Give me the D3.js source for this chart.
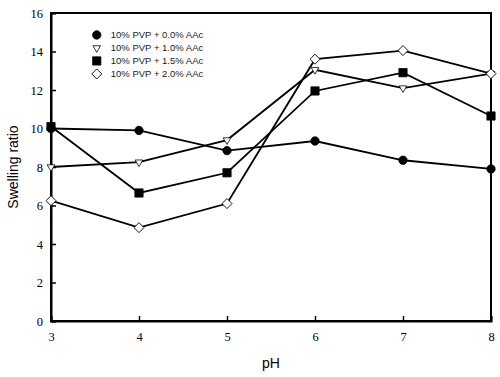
<!DOCTYPE html>
<html>
	<head>
		<style>
			body, html { margin: 0; padding: 0; background: #fff; }
			svg { display: block; }
		</style>
	</head>
	<body>
		<svg id="svg" width="500" height="377"></svg>

		<script src="https://cdn.jsdelivr.net/npm/d3@7"></script>
		<script>
			// Data
			const pH = [3, 4, 5, 6, 7, 8]
			const aac00 = [10.0, 9.9, 8.85, 9.35, 8.35, 7.9]
			const aac10 = [8.0, 8.25, 9.4, 13.05, 12.1, 12.85]
			const aac15 = [10.1, 6.65, 7.7, 11.95, 12.9, 10.65]
			const aac20 = [6.25, 4.85, 6.1, 13.6, 14.05, 12.85]
			const seriesNames = ['10% PVP + 0.0% AAc', '10% PVP + 1.0% AAc', '10% PVP + 1.5% AAc', '10% PVP + 2.0% AAc']
			const yTicks = [0, 2, 4, 6, 8, 10, 12, 14, 16]

			const series = [
				{ name: seriesNames[0], values: aac00, shape: 'circle', fill: '#000' },
				{ name: seriesNames[1], values: aac10, shape: 'triangle', fill: '#fff' },
				{ name: seriesNames[2], values: aac15, shape: 'square', fill: '#000' },
				{ name: seriesNames[3], values: aac20, shape: 'diamond', fill: '#fff' }
			]

			const margin = { top: 13, right: 9, bottom: 56, left: 51 }
			const width = 500
			const height = 377
			const innerW = width - margin.left - margin.right
			const innerH = height - margin.top - margin.bottom

			const x = d3.scaleLinear().domain([3, 8]).range([0, innerW])
			const y = d3.scaleLinear().domain([0, 16]).range([innerH, 0])

			const svg = d3.select('#svg')
			const g = svg.append('g')
				.attr('transform', `translate(${margin.left}, ${margin.top})`)

			// Frame
			g.append('rect')
				.attr('width', innerW)
				.attr('height', innerH)
				.attr('fill', 'none')
				.attr('stroke', '#000')
				.attr('stroke-width', 2)

			// Axes with inward ticks
			const xAxis = g.append('g')
				.attr('transform', `translate(0, ${innerH})`)
				.call(d3.axisBottom(x).tickValues(pH).tickSize(-5).tickPadding(10).tickFormat(d3.format('d')))
			const yAxis = g.append('g')
				.call(d3.axisLeft(y).tickValues(yTicks).tickSize(-5).tickPadding(8))

			for (const ax of [xAxis, yAxis]) {
				ax.attr('font-family', '"Liberation Serif", serif')
				ax.select('.domain').attr('stroke', '#000').attr('stroke-width', 2)
				ax.selectAll('.tick line').attr('stroke', '#000').attr('stroke-width', 1.5)
				ax.selectAll('.tick text')
					.style('font-family', '"Liberation Serif", "Times New Roman", serif')
					.attr('font-size', 12.5)
					.attr('fill', '#000')
			}
			xAxis.selectAll('.tick text').attr('dy', '0.8em')

			// Marker shapes
			const symbolFor = {
				circle: d3.symbol(d3.symbolCircle, 55),
				square: d3.symbol(d3.symbolSquare, 68),
				diamond: d3.symbol(d3.symbolDiamond2, 48),
				triangle: d3.symbol(d3.symbolTriangle2, 42)
			}
			function drawMarker(sel, shape) {
				const path = sel.append('path').attr('d', symbolFor[shape]())
				if (shape === 'triangle') path.attr('transform', 'rotate(180)')
				if (shape === 'diamond') path.attr('transform', 'scale(1.15)')
				return path
			}

			const line = d3.line()
				.x((d, i) => x(pH[i]))
				.y(d => y(d))

			// Lines first, then markers on top
			g.selectAll('.series-line')
				.data(series)
				.join('path')
				.attr('class', 'series-line')
				.attr('d', d => line(d.values))
				.attr('fill', 'none')
				.attr('stroke', '#000')
				.attr('stroke-width', 1.8)

			series.forEach(s => {
				s.values.forEach((v, i) => {
					const m = g.append('g').attr('transform', `translate(${x(pH[i])}, ${y(v)})`)
					drawMarker(m, s.shape)
						.attr('fill', s.fill)
						.attr('stroke', '#000')
						.attr('stroke-width', 0.8)
				})
			})

			// Legend
			const legend = g.append('g').attr('transform', `translate(${x(3.52)}, ${y(14.86)})`)
			series.forEach((s, i) => {
				const row = legend.append('g').attr('transform', `translate(0, ${i * 13})`)
				drawMarker(row, s.shape)
					.attr('fill', s.fill)
					.attr('stroke', '#000')
					.attr('stroke-width', 0.8)
				row.append('text')
					.attr('x', 14)
					.attr('y', 0)
					.attr('dy', '0.35em')
					.attr('font-family', '"Liberation Sans", Arial, sans-serif')
					.attr('font-size', 9.5)
					.attr('fill', '#222')
					.text(s.name)
			})

			// Axis titles
			svg.append('text')
				.attr('x', margin.left + innerW / 2)
				.attr('y', 368)
				.attr('text-anchor', 'middle')
				.attr('font-family', '"Liberation Sans", Arial, sans-serif')
				.attr('font-size', 14)
				.text('pH')
			svg.append('text')
				.attr('transform', `translate(18, ${margin.top + innerH / 2}) rotate(-90)`)
				.attr('text-anchor', 'middle')
				.attr('font-family', '"Liberation Sans", Arial, sans-serif')
				.attr('font-size', 14)
				.text('Swelling ratio')
		</script>
	</body>
</html>
